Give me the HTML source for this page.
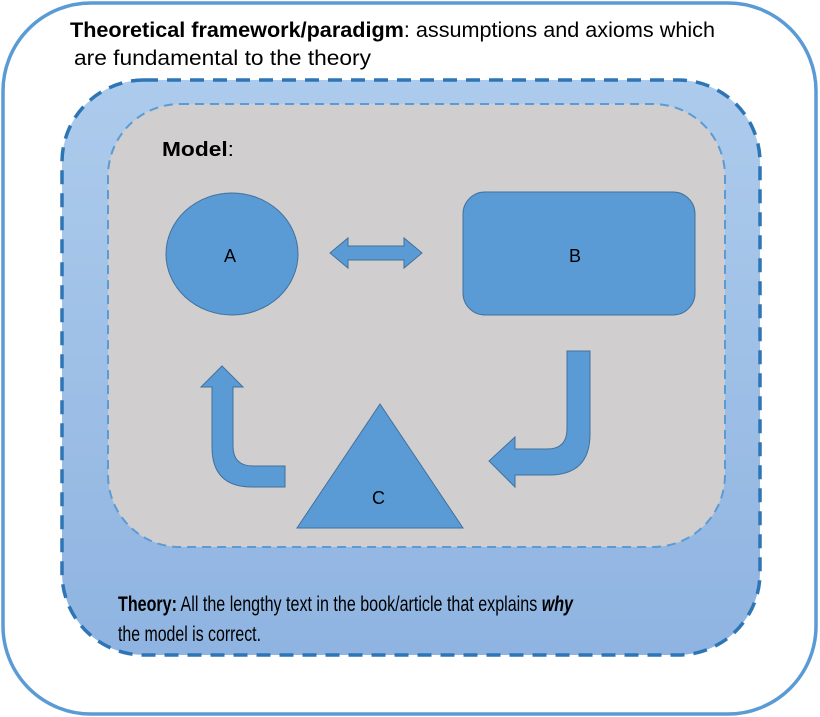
<!DOCTYPE html>
<html><head><meta charset="utf-8"><style>
html,body{margin:0;padding:0;background:#fff;}
svg{display:block;}
text{font-family:"Liberation Sans",sans-serif;fill:#000;}
</style></head><body>
<svg width="820" height="717" viewBox="0 0 820 717" xmlns="http://www.w3.org/2000/svg">
<defs>
<linearGradient id="g" x1="0" y1="0" x2="0" y2="1">
<stop offset="0" stop-color="#adcbec"/><stop offset="1" stop-color="#8fb4e1"/>
</linearGradient>
</defs>
<rect x="3" y="3" width="813" height="711" rx="88" ry="88" fill="#fff" stroke="#5b9bd5" stroke-width="3.5"/>
<rect x="62" y="80" width="698" height="575" rx="82" ry="82" fill="url(#g)" stroke="#2e75b6" stroke-width="3.5" stroke-dasharray="14,9"/>
<rect x="108" y="104" width="617" height="443" rx="72" ry="72" fill="#d0cece" stroke="#5b9bd5" stroke-width="2" stroke-dasharray="9,6"/>
<text x="70" y="37" font-size="21" textLength="645" lengthAdjust="spacingAndGlyphs"><tspan font-weight="bold">Theoretical framework/paradigm</tspan>: assumptions and axioms which</text>
<text x="74" y="65" font-size="21" textLength="297" lengthAdjust="spacingAndGlyphs">are fundamental to the theory</text>
<text x="162" y="156" font-size="20" textLength="72" lengthAdjust="spacingAndGlyphs"><tspan font-weight="bold">Model</tspan>:</text>
<ellipse cx="232" cy="254" rx="66" ry="61" fill="#5b9bd5" stroke="#41719c" stroke-width="1"/>
<text x="224" y="262" font-size="18">A</text>
<rect x="463" y="192" width="232" height="123" rx="22" fill="#5b9bd5" stroke="#41719c" stroke-width="1"/>
<text x="569" y="262" font-size="18">B</text>
<polygon points="330,253 348,238 348,246 404,246 404,238 422,253 404,268 404,260 348,260 348,268" fill="#5b9bd5" stroke="#41719c" stroke-width="1"/>
<polygon points="380,404 463,528 297,528" fill="#5b9bd5" stroke="#41719c" stroke-width="1"/>
<text x="372" y="504" font-size="18">C</text>
<path d="M222,366 L243,387 L233,387 L233,446 Q233,466 253,466 L285,466 L285,487 L252,487 Q212,487 212,447 L212,387 L201,387 Z" fill="#5b9bd5" stroke="#41719c" stroke-width="1"/>
<path d="M567,351 L590,351 L590,434 Q590,475 549,475 L515,475 L515,487 L489,461 L515,437 L515,449 L547,449 Q567,449 567,429 Z" fill="#5b9bd5" stroke="#41719c" stroke-width="1"/>
<text x="118" y="611" font-size="21" textLength="455" lengthAdjust="spacingAndGlyphs"><tspan font-weight="bold">Theory:</tspan> All the lengthy text in the book/article that explains <tspan font-weight="bold" font-style="italic">why</tspan></text>
<text x="118" y="641" font-size="21" textLength="143" lengthAdjust="spacingAndGlyphs">the model is correct.</text>
</svg>
</body></html>
